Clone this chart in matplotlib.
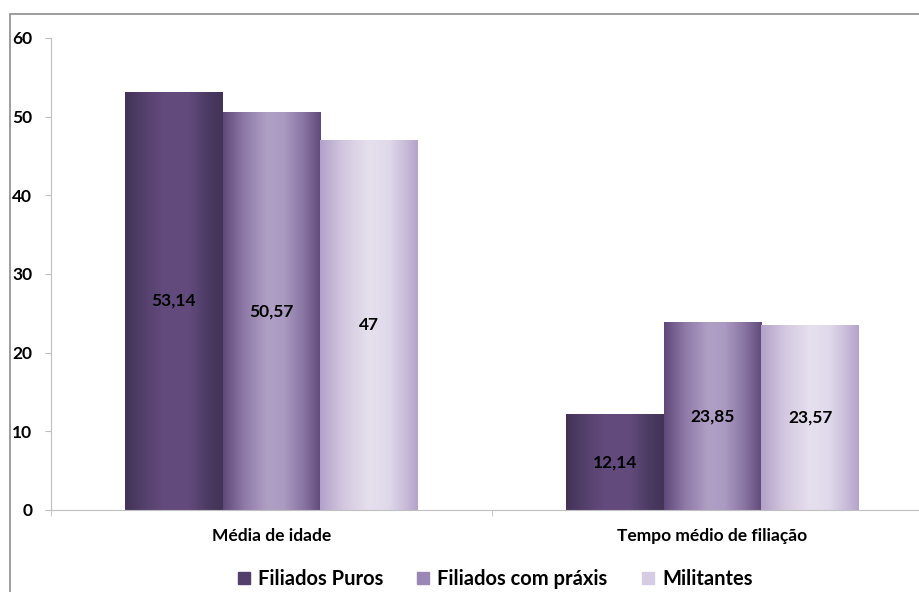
import numpy as np
import matplotlib.pyplot as plt
from matplotlib.colors import LinearSegmentedColormap
from matplotlib.lines import Line2D
from matplotlib.patches import Rectangle

plt.rcParams['font.family'] = ['Lato', 'DejaVu Sans']
plt.rcParams['font.weight'] = 'bold'

categories = ['Média de idade', 'Tempo médio de filiação']
series = ['Filiados Puros', 'Filiados com práxis', 'Militantes']
values = [[53.14, 12.14], [50.57, 23.85], [47, 23.57]]
labels = [['53,14', '12,14'], ['50,57', '23,85'], ['47', '23,57']]

gradients = [
    [(0, '#433357'), (0.2, '#55406d'), (0.38, '#624a7c'), (0.65, '#634b7d'), (0.85, '#4b3a62'), (1, '#433356')],
    [(0, '#5e4979'), (0.22, '#8f7aa8'), (0.45, '#b09fc5'), (0.62, '#ab9ac2'), (0.82, '#8a75a3'), (1, '#5f4a7b')],
    [(0, '#b3a1c9'), (0.25, '#d4c9e0'), (0.5, '#e6e0ee'), (0.7, '#e0d9ea'), (0.86, '#cbbedb'), (1, '#b4a3ca')],
]
legend_colors = ['#523f6c', '#9a87b3', '#d6cce3']

fig = plt.figure(figsize=(9.2, 5.92), dpi=100)
fig.patches.append(Rectangle((10 / 920, -0.1), 1.2, 1 - 14 / 592 + 0.1,
                             transform=fig.transFigure, fill=False,
                             edgecolor='#8c8c8c', linewidth=1.2))
ax = fig.add_axes([51 / 920, 1 - 510 / 592, 882 / 920, 472 / 592])

x = np.arange(len(categories))
width = 0.222
ramp = np.linspace(0, 1, 256).reshape(1, -1)

for i, name in enumerate(series):
    bars = ax.bar(x + (i - 1) * width, values[i], width, color='none',
                  edgecolor='none', label=name)
    cmap = LinearSegmentedColormap.from_list('g%d' % i, gradients[i])
    for b in bars:
        x0, y0 = b.get_x(), b.get_y()
        im = ax.imshow(ramp, cmap=cmap, aspect='auto', origin='lower',
                       extent=[x0, x0 + b.get_width(), y0, y0 + b.get_height()],
                       zorder=1)
        im.set_clip_path(b)
    ax.bar_label(bars, labels=labels[i], label_type='center',
                 fontsize=12.5, fontweight='bold', color='black')

ax.set_xlim(-0.5, 1.5)
ax.set_ylim(0, 60)
ax.set_yticks(range(0, 61, 10))
ax.set_xticks(x)
ax.set_xticklabels(categories)
ax.set_xticks([-0.5, 0.5, 1.5], minor=True)
ax.tick_params(axis='x', which='major', length=0, pad=13, labelsize=12.5)
ax.tick_params(axis='x', which='minor', length=4.5, color='#bfbfbf')
ax.tick_params(axis='y', length=4.5, color='#bfbfbf', pad=9, labelsize=12.5)
for s in ['top', 'right']:
    ax.spines[s].set_visible(False)
for s in ['left', 'bottom']:
    ax.spines[s].set_color('#bfbfbf')

handles = [Line2D([], [], marker='s', linestyle='none', markersize=9,
                  markerfacecolor=c, markeredgecolor=c) for c in legend_colors]
fig.legend(handles, series, loc='center', bbox_to_anchor=(494 / 920, 1 - 579 / 592),
           ncol=3, frameon=False, fontsize=14.5, handlelength=0.8,
           handletextpad=0.3, columnspacing=1.6, borderpad=0)

fig.savefig('out.png', dpi=100)
